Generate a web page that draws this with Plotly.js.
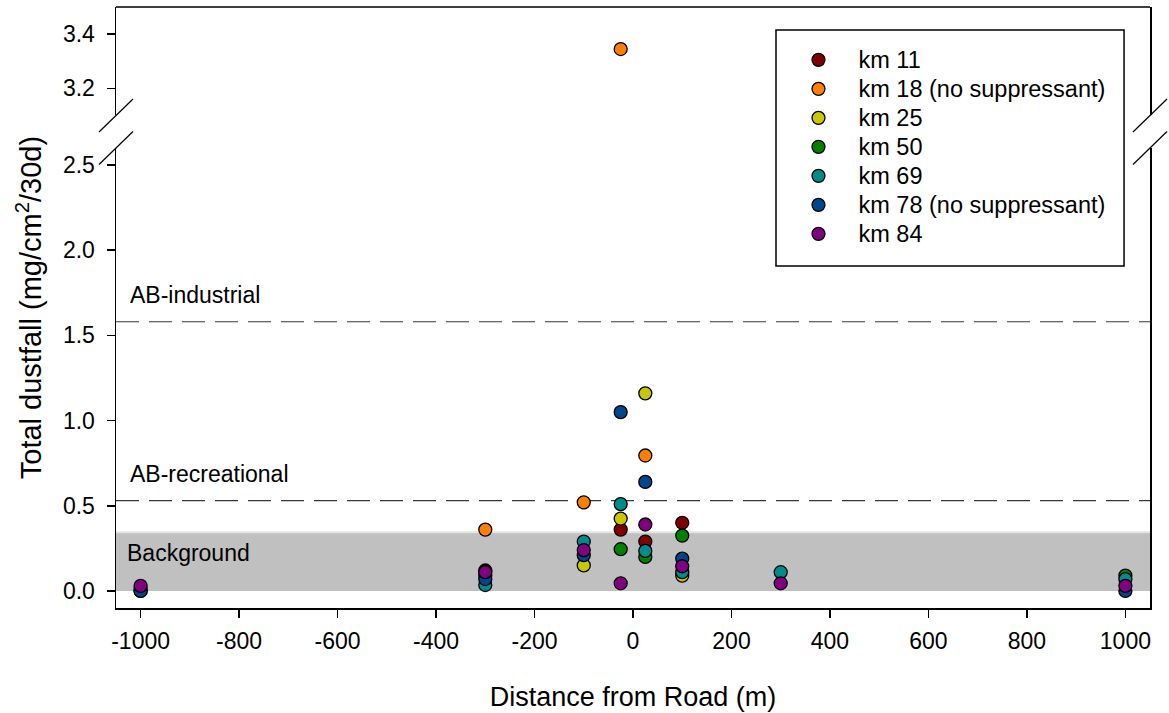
<!DOCTYPE html>
<html>
<head>
<meta charset="utf-8">
<script src="https://cdn.plot.ly/plotly-3.0.1.min.js"></script>
<style>html,body{margin:0;padding:0;background:#fff;}#chart{width:1169px;height:713px;}</style>
</head>
<body>
<div id="chart"></div>
<script>
// ---- data ----
const distance = [-1000, -300, -100, -25, 25, 100, 300, 1000];
const km11 = [null, 0.12, null, 0.36, 0.29, 0.40, null, null];
const km18 = [null, 0.36, 0.52, 3.345, 0.795, null, null, null];
const km25 = [null, null, 0.15, 0.425, 1.16, 0.09, null, null];
const km50 = [0.0, 0.09, null, 0.245, 0.20, 0.325, null, 0.09];
const km69 = [0.01, 0.035, 0.29, 0.51, 0.235, 0.11, 0.11, 0.07];
const km78 = [0.0, 0.07, 0.21, 1.05, 0.64, 0.19, null, 0.0];
const km84 = [0.03, 0.11, 0.24, 0.045, 0.39, 0.145, 0.045, 0.03];
const seriesNames = ['km 11', 'km 18 (no suppressant)', 'km 25', 'km 50', 'km 69', 'km 78 (no suppressant)', 'km 84'];
const seriesValues = [km11, km18, km25, km50, km69, km78, km84];
const seriesColors = ['#800000', '#FF8000', '#C8C800', '#008000', '#008B8B', '#00468C', '#800080'];
const xTickVals = [-1000, -800, -600, -400, -200, 0, 200, 400, 600, 800, 1000];
const xTickLabels = ['-1000', '-800', '-600', '-400', '-200', '0', '200', '400', '600', '800', '1000'];
const yLowTicks = [0, 0.5, 1.0, 1.5, 2.0, 2.5];
const yHighTicks = [3.2, 3.4];
const abIndustrial = 1.58;
const abRecreational = 0.53;
const backgroundTop = 0.344;

const lowRange = [-0.1, 2.6];
const highRange = [3.1, 3.5];
const FONT = 'Arial, "Liberation Sans", sans-serif';
const TICK = 23;

const traces = [];
seriesNames.forEach((name, i) => {
  const vals = seriesValues[i];
  const mk = {size: 13, color: seriesColors[i], line: {color: '#000', width: 1.3}};
  traces.push({
    x: distance, y: vals.map(v => (v !== null && v <= lowRange[1]) ? v : null),
    type: 'scatter', mode: 'markers',
    name: '<span style="font-size:23.5px">' + name + '</span>',
    marker: mk, xaxis: 'x', yaxis: 'y', cliponaxis: false
  });
  const hi = vals.map(v => (v !== null && v >= highRange[0]) ? v : null);
  if (hi.some(v => v !== null)) {
    traces.push({
      x: distance, y: hi, type: 'scatter', mode: 'markers', name: name,
      showlegend: false, marker: mk, xaxis: 'x', yaxis: 'y2'
    });
  }
});

const lowTop = 0.7654, highBottom = 0.8195;
const slash = (xa, ya) => ({
  type: 'line', xref: 'paper', yref: 'paper', xsizemode: 'pixel', ysizemode: 'pixel',
  xanchor: xa, yanchor: ya, x0: -17, x1: 17, y0: -16.5, y1: 16.5,
  line: {color: '#000', width: 1.2}
});

const layout = {
  width: 1169, height: 713,
  margin: {l: 116, r: 19, t: 7, b: 105},
  paper_bgcolor: '#fff', plot_bgcolor: 'rgba(0,0,0,0)',
  font: {family: FONT, color: '#000', size: 20},
  showlegend: true,
  legend: {
    x: 0.6407, y: 0.9445, xanchor: 'left', yanchor: 'top',
    bgcolor: 'rgba(0,0,0,0)', borderwidth: 0, itemwidth: 70,
    traceorder: 'normal',
    font: {family: FONT, size: 20, color: '#000'}
  },
  xaxis: {
    range: [-1050, 1050], anchor: 'y', showgrid: false, zeroline: false,
    showline: true, linecolor: '#000', linewidth: 1.5,
    ticks: 'outside', ticklen: 8, tickwidth: 1.5, tickcolor: '#000', ticklabelstandoff: 4,
    tickvals: xTickVals, ticktext: xTickLabels,
    tickfont: {family: FONT, size: TICK},
    title: {text: 'Distance from Road (m)', font: {family: FONT, size: 27}, standoff: 34}
  },
  yaxis: {
    domain: [0, lowTop], range: lowRange, anchor: 'x', showgrid: false, zeroline: false,
    showline: true, mirror: true, linecolor: '#000', linewidth: 1.5,
    ticks: 'outside', ticklen: 8, tickwidth: 1.5, tickcolor: '#000', ticklabelstandoff: 7,
    tickvals: yLowTicks, tickformat: '.1f', tickfont: {family: FONT, size: TICK}
  },
  yaxis2: {
    domain: [highBottom, 1], range: highRange, anchor: 'x', showgrid: false, zeroline: false,
    showline: true, mirror: true, linecolor: '#000', linewidth: 1.5,
    ticks: 'outside', ticklen: 8, tickwidth: 1.5, tickcolor: '#000', ticklabelstandoff: 7,
    tickvals: yHighTicks, tickformat: '.1f', tickfont: {family: FONT, size: TICK}
  },
  shapes: [
    {type: 'rect', xref: 'paper', yref: 'y', x0: 0, x1: 1, y0: 0, y1: backgroundTop,
     fillcolor: '#c0c0c0', line: {width: 0}, layer: 'below'},
    {type: 'line', xref: 'paper', yref: 'y', x0: 0, x1: 1, y0: backgroundTop, y1: backgroundTop,
     line: {color: '#e4e4e4', width: 2}, layer: 'below'},
    {type: 'line', xref: 'paper', yref: 'y', x0: 0, x1: 1, y0: abIndustrial, y1: abIndustrial,
     line: {color: '#3a3a3a', width: 1.2, dash: '23px,10px'}, layer: 'below'},
    {type: 'line', xref: 'paper', yref: 'y', x0: 0, x1: 1, y0: abRecreational, y1: abRecreational,
     line: {color: '#3a3a3a', width: 1.2, dash: '23px,10px'}, layer: 'below'},
    {type: 'line', xref: 'paper', yref: 'paper', x0: 0, x1: 1, y0: 1, y1: 1,
     line: {color: '#000', width: 1.5}},
    {type: 'rect', xref: 'paper', yref: 'paper', x0: 0.6383, x1: 0.9749, y0: 0.5691, y1: 0.9617,
     line: {color: '#000', width: 1.5}, fillcolor: 'rgba(0,0,0,0)'},
    slash(0, lowTop), slash(0, highBottom), slash(1, lowTop), slash(1, highBottom)
  ],
  annotations: [
    {text: 'Total dustfall (mg/cm<sup>2</sup>/30d)', xref: 'paper', yref: 'paper',
     x: -0.084, y: 0.499, textangle: -90, showarrow: false, xanchor: 'center', yanchor: 'middle',
     font: {family: FONT, size: 29}},
    {text: 'AB-industrial', xref: 'paper', yref: 'y', x: 0.0116, y: 1.735, xanchor: 'left', yanchor: 'middle',
     showarrow: false, font: {family: FONT, size: 23}},
    {text: 'AB-recreational', xref: 'paper', yref: 'y', x: 0.0116, y: 0.684, xanchor: 'left', yanchor: 'middle',
     showarrow: false, font: {family: FONT, size: 23}},
    {text: 'Background', xref: 'paper', yref: 'y', x: 0.0087, y: 0.22, xanchor: 'left', yanchor: 'middle',
     showarrow: false, font: {family: FONT, size: 23}}
  ]
};

Plotly.newPlot('chart', traces, layout, {staticPlot: true, displayModeBar: false});
</script>
</body>
</html>
